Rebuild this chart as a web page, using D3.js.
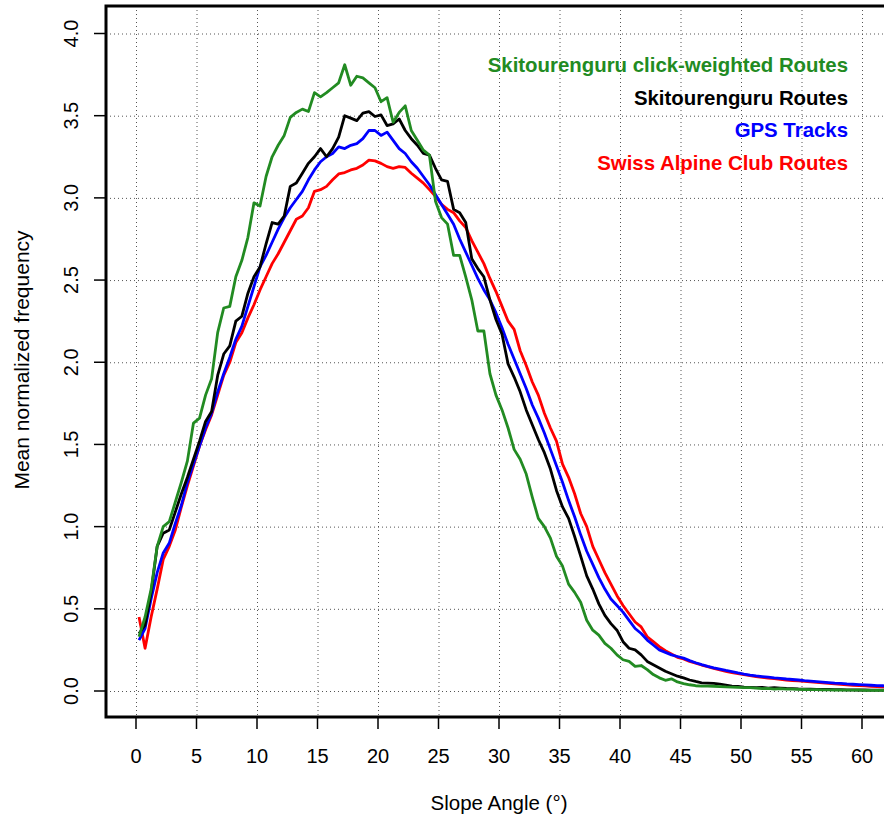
<!DOCTYPE html>
<html>
<head>
<meta charset="utf-8">
<script src="https://cdn.jsdelivr.net/npm/d3@7"></script>
<style>
  body { margin: 0; background: #fff; }
  text { font-family: "Liberation Sans", Arial, sans-serif; }
</style>
</head>
<body>
<div id="chart"></div>
<script>
// slope angle bins (deg), 0.5 deg steps
const angles = d3.range(0.25, 62.5, 0.5);

const clickWeighted = [
  0.33, 0.45, 0.62, 0.88, 1.00, 1.03, 1.15, 1.27, 1.40, 1.63,
  1.66, 1.80, 1.90, 2.18, 2.33, 2.34, 2.52, 2.62, 2.76, 2.97,
  2.95, 3.13, 3.25, 3.32, 3.38, 3.49, 3.52, 3.54, 3.525, 3.64,
  3.615, 3.64, 3.67, 3.70, 3.81, 3.685, 3.74, 3.73, 3.70, 3.67,
  3.585, 3.61, 3.46, 3.52, 3.56, 3.41, 3.35, 3.29, 3.26, 2.98,
  2.88, 2.84, 2.65, 2.65, 2.52, 2.38, 2.19, 2.19, 1.93, 1.80,
  1.71, 1.60, 1.47, 1.41, 1.32, 1.18, 1.05, 1.00, 0.93, 0.82,
  0.76, 0.65, 0.60, 0.54, 0.43, 0.37, 0.34, 0.29, 0.26, 0.22,
  0.19, 0.18, 0.15, 0.155, 0.13, 0.10, 0.08, 0.065, 0.074, 0.055,
  0.045, 0.038, 0.032, 0.030, 0.030, 0.029, 0.027, 0.025, 0.024, 0.022,
  0.020, 0.020, 0.018, 0.015, 0.016, 0.012, 0.014, 0.011, 0.012, 0.010,
  0.009, 0.008, 0.008, 0.007, 0.007, 0.006, 0.006, 0.005, 0.005, 0.005,
  0.004, 0.004, 0.004, 0.004, 0.003
];

const routes = [
  0.35, 0.40, 0.60, 0.88, 0.96, 0.98, 1.09, 1.20, 1.30, 1.41,
  1.52, 1.64, 1.70, 1.92, 2.05, 2.10, 2.25, 2.28, 2.42, 2.52,
  2.58, 2.72, 2.85, 2.84, 2.89, 3.07, 3.09, 3.15, 3.21, 3.25,
  3.30, 3.25, 3.30, 3.37, 3.50, 3.485, 3.47, 3.515, 3.525, 3.495,
  3.505, 3.44, 3.45, 3.48, 3.41, 3.36, 3.32, 3.27, 3.26, 3.18,
  3.11, 3.10, 2.93, 2.91, 2.85, 2.63, 2.57, 2.52, 2.38, 2.26,
  2.17, 1.99, 1.91, 1.82, 1.71, 1.62, 1.53, 1.45, 1.35, 1.22,
  1.12, 1.05, 0.94, 0.82, 0.70, 0.62, 0.53, 0.46, 0.41, 0.37,
  0.30, 0.26, 0.25, 0.22, 0.18, 0.16, 0.14, 0.12, 0.105, 0.09,
  0.08, 0.067, 0.058, 0.050, 0.048, 0.046, 0.042, 0.036, 0.030, 0.028,
  0.024, 0.022, 0.020, 0.022, 0.018, 0.020, 0.018, 0.016, 0.015, 0.013,
  0.012, 0.011, 0.010, 0.009, 0.009, 0.008, 0.008, 0.007, 0.007, 0.006,
  0.006, 0.005, 0.005, 0.005, 0.004
];

const gpsTracks = [
  0.31, 0.38, 0.56, 0.72, 0.84, 0.90, 1.02, 1.13, 1.27, 1.38,
  1.49, 1.60, 1.69, 1.82, 1.93, 2.03, 2.14, 2.22, 2.34, 2.46,
  2.58, 2.65, 2.73, 2.81, 2.88, 2.94, 2.99, 3.04, 3.11, 3.17,
  3.22, 3.25, 3.27, 3.31, 3.30, 3.32, 3.33, 3.36, 3.41, 3.41,
  3.38, 3.40, 3.35, 3.30, 3.27, 3.22, 3.18, 3.13, 3.08, 3.02,
  2.96, 2.90, 2.84, 2.75, 2.67, 2.59, 2.51, 2.44, 2.38, 2.30,
  2.21, 2.11, 2.02, 1.93, 1.84, 1.74, 1.66, 1.57, 1.47, 1.37,
  1.27, 1.16, 1.06, 0.95, 0.85, 0.77, 0.69, 0.62, 0.56, 0.52,
  0.48, 0.43, 0.38, 0.35, 0.31, 0.28, 0.25, 0.235, 0.22, 0.21,
  0.20, 0.185, 0.172, 0.160, 0.150, 0.141, 0.133, 0.125, 0.118, 0.110,
  0.103, 0.097, 0.092, 0.088, 0.084, 0.080, 0.077, 0.073, 0.070, 0.067,
  0.063, 0.060, 0.057, 0.054, 0.051, 0.048, 0.046, 0.043, 0.041, 0.039,
  0.037, 0.035, 0.033, 0.032, 0.030
];

const sacRoutes = [
  0.45, 0.26, 0.45, 0.62, 0.80, 0.88, 0.98, 1.12, 1.25, 1.37,
  1.49, 1.59, 1.68, 1.80, 1.92, 2.00, 2.12, 2.18, 2.27, 2.35,
  2.44, 2.52, 2.60, 2.66, 2.73, 2.80, 2.87, 2.89, 2.94, 3.04,
  3.05, 3.07, 3.11, 3.146, 3.154, 3.17, 3.18, 3.20, 3.23, 3.225,
  3.21, 3.19, 3.18, 3.19, 3.185, 3.15, 3.12, 3.09, 3.05, 3.01,
  2.96, 2.93, 2.91, 2.86, 2.82, 2.74, 2.67, 2.60, 2.51, 2.43,
  2.34, 2.25, 2.20, 2.07, 1.98, 1.88, 1.80, 1.69, 1.60, 1.52,
  1.38, 1.30, 1.20, 1.08, 1.00, 0.88, 0.80, 0.72, 0.65, 0.58,
  0.52, 0.47, 0.42, 0.39, 0.33, 0.30, 0.27, 0.245, 0.225, 0.205,
  0.195, 0.180, 0.170, 0.158, 0.148, 0.137, 0.128, 0.120, 0.112, 0.106,
  0.099, 0.094, 0.088, 0.083, 0.079, 0.075, 0.071, 0.067, 0.064, 0.061,
  0.058, 0.055, 0.052, 0.049, 0.046, 0.043, 0.040, 0.038, 0.035, 0.033,
  0.031, 0.029, 0.027, 0.026, 0.024
];

const seriesNames = [
  'Skitourenguru click-weighted Routes',
  'Skitourenguru Routes',
  'GPS Tracks',
  'Swiss Alpine Club Routes',
];
const seriesColors = ['#228b22', '#000000', '#0000ff', '#ff0000'];
const seriesValues = [clickWeighted, routes, gpsTracks, sacRoutes];
// drawing order: red, blue, black, green on top
const drawOrder = [3, 2, 1, 0];

const xTicks = d3.range(0, 61, 5);
const yTicks = d3.range(0, 4.01, 0.5);

const width = 884;
const height = 818;

const x = d3.scaleLinear().domain([0, 60]).range([136, 862]);
const y = d3.scaleLinear().domain([0, 4]).range([691, 33.5]);

const box = { left: 106, top: 6, right: 930, bottom: 717 };

const svg = d3.select('#chart').append('svg')
  .attr('width', width)
  .attr('height', height);

svg.append('defs').append('clipPath')
  .attr('id', 'plot-clip')
  .append('rect')
  .attr('x', box.left)
  .attr('y', box.top)
  .attr('width', box.right - box.left)
  .attr('height', box.bottom - box.top);

// grid
const grid = svg.append('g')
  .attr('stroke', '#555')
  .attr('stroke-width', 1)
  .attr('stroke-dasharray', '1,3');

grid.selectAll('line.vx')
  .data(xTicks)
  .join('line')
  .attr('class', 'vx')
  .attr('x1', d => x(d) + 0.5)
  .attr('x2', d => x(d) + 0.5)
  .attr('y1', box.top)
  .attr('y2', box.bottom);

grid.selectAll('line.hy')
  .data(yTicks)
  .join('line')
  .attr('class', 'hy')
  .attr('x1', box.left)
  .attr('x2', box.right)
  .attr('y1', d => y(d) + 0.5)
  .attr('y2', d => y(d) + 0.5);

// curves
const line = d3.line()
  .x(d => x(d[0]))
  .y(d => y(d[1]));

const curves = svg.append('g').attr('clip-path', 'url(#plot-clip)');
drawOrder.forEach(i => {
  curves.append('path')
    .datum(angles.map((a, j) => [a, seriesValues[i][j]]))
    .attr('fill', 'none')
    .attr('stroke', seriesColors[i])
    .attr('stroke-width', 2.8)
    .attr('stroke-linejoin', 'round')
    .attr('d', line);
});

// box
svg.append('rect')
  .attr('x', box.left)
  .attr('y', box.top)
  .attr('width', box.right - box.left)
  .attr('height', box.bottom - box.top)
  .attr('fill', 'none')
  .attr('stroke', '#000')
  .attr('stroke-width', 3);

// x axis
const xAxis = svg.append('g');
xAxis.selectAll('line')
  .data(xTicks)
  .join('line')
  .attr('x1', d => x(d))
  .attr('x2', d => x(d))
  .attr('y1', box.bottom)
  .attr('y2', box.bottom + 12)
  .attr('stroke', '#000')
  .attr('stroke-width', 1.5);
xAxis.selectAll('text')
  .data(xTicks)
  .join('text')
  .attr('x', d => x(d))
  .attr('y', 763)
  .attr('text-anchor', 'middle')
  .style('font-size', '20px')
  .text(d => d);

// y axis
const yAxis = svg.append('g');
yAxis.selectAll('line')
  .data(yTicks)
  .join('line')
  .attr('x1', box.left)
  .attr('x2', box.left - 12)
  .attr('y1', d => y(d))
  .attr('y2', d => y(d))
  .attr('stroke', '#000')
  .attr('stroke-width', 1.5);
yAxis.selectAll('text')
  .data(yTicks)
  .join('text')
  .attr('transform', d => `translate(78,${y(d)}) rotate(-90)`)
  .attr('text-anchor', 'middle')
  .style('font-size', '20px')
  .text(d => d.toFixed(1));

// axis titles
svg.append('text')
  .attr('x', 499)
  .attr('y', 810)
  .attr('text-anchor', 'middle')
  .style('font-size', '20.5px')
  .text('Slope Angle (°)');

svg.append('text')
  .attr('transform', 'translate(29,360) rotate(-90)')
  .attr('text-anchor', 'middle')
  .style('font-size', '21px')
  .text('Mean normalized frequency');

// legend (text only, right aligned)
svg.append('g').selectAll('text')
  .data(seriesNames)
  .join('text')
  .attr('x', 848)
  .attr('y', (d, i) => 72 + i * 32.7)
  .attr('text-anchor', 'end')
  .attr('fill', (d, i) => seriesColors[i])
  .style('font-size', '20.4px')
  .style('font-weight', 'bold')
  .text(d => d);
</script>
</body>
</html>
